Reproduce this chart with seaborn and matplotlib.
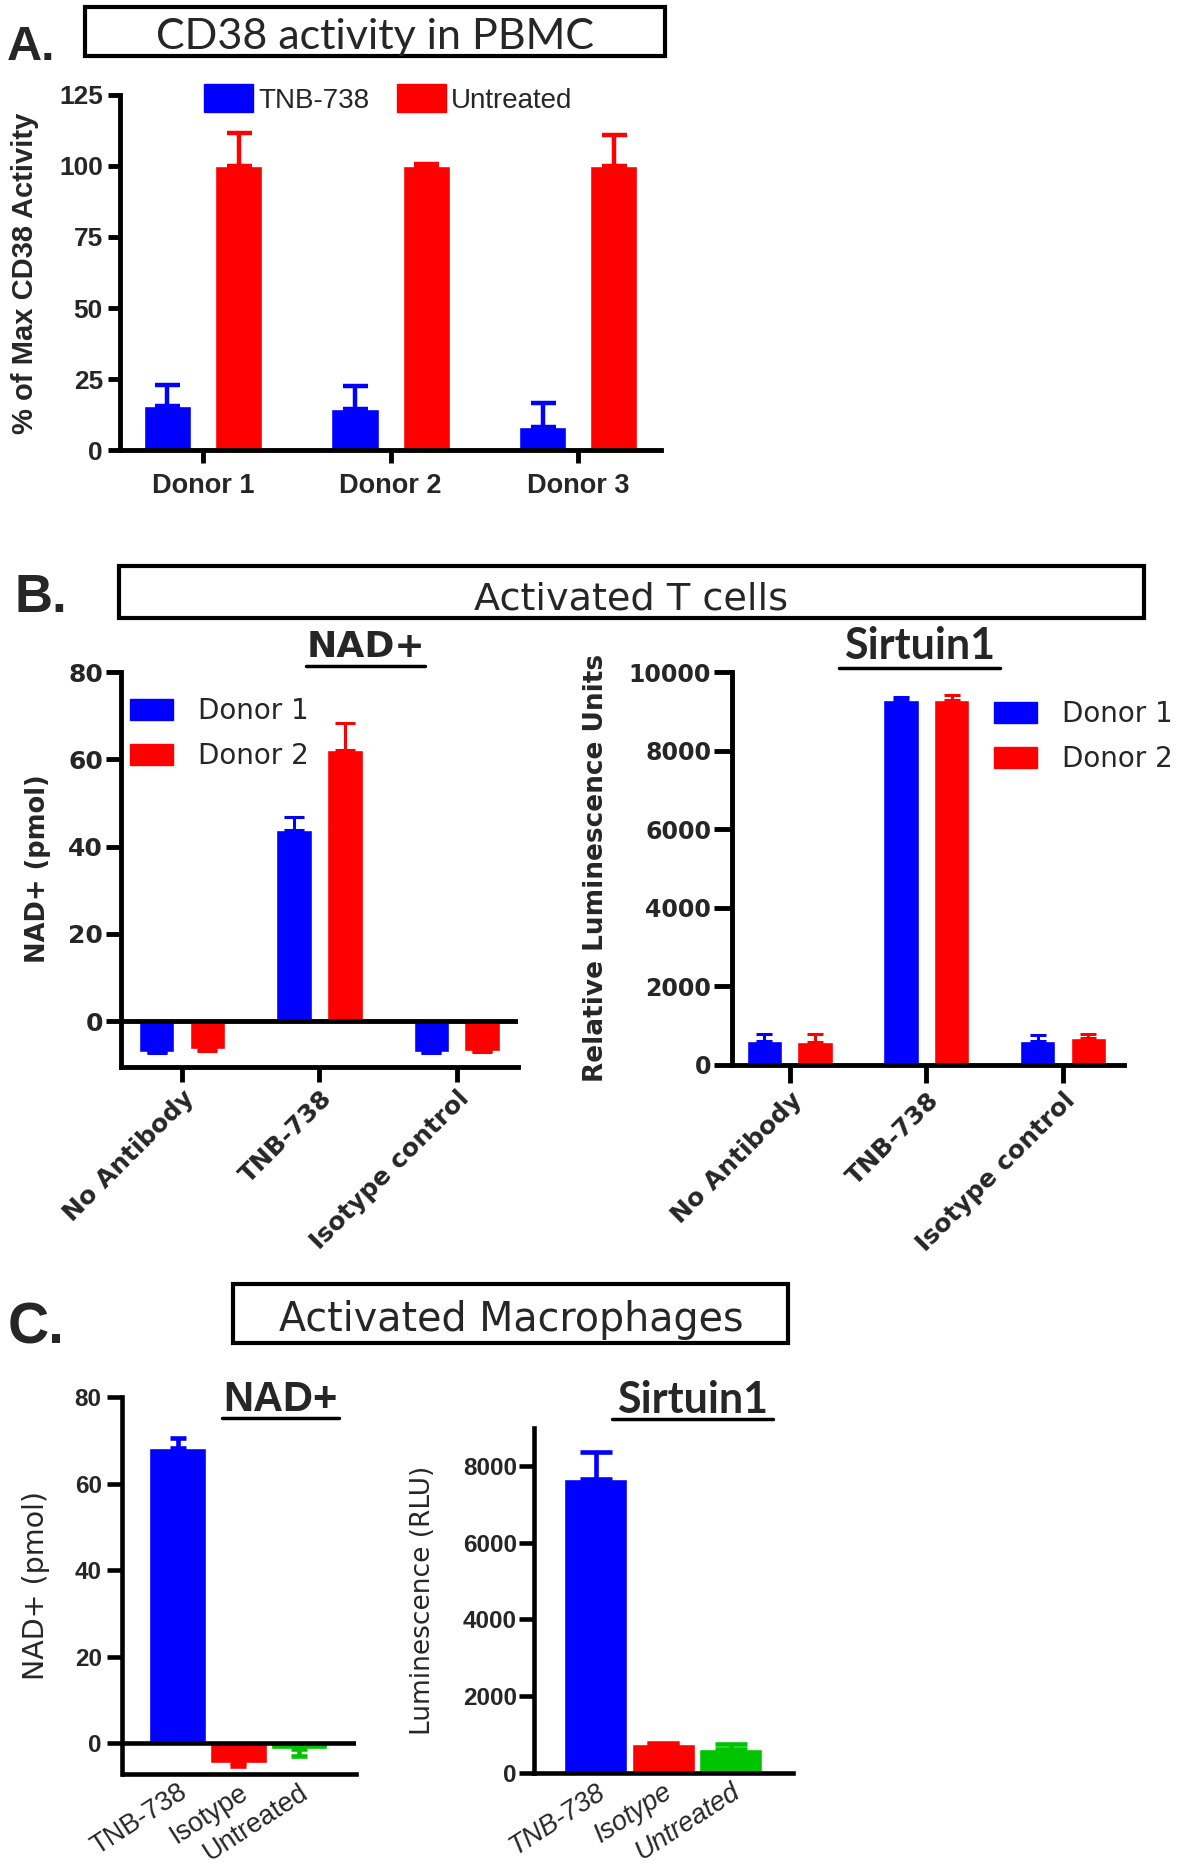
import matplotlib
matplotlib.use("Agg")
import matplotlib.pyplot as plt
import seaborn as sns
import pandas as pd
from matplotlib.patches import Patch, Rectangle
from matplotlib.lines import Line2D

W, H = 1181, 1868
BLUE, RED, GREEN = "#0000FF", "#FF0000", "#00C400"

# --- Panel A: CD38 activity in PBMC ---
a_donors = ["Donor 1", "Donor 2", "Donor 3"]
a_series = ["TNB-738", "Untreated"]
a_tnb = [15.5, 14.5, 8.2]
a_tnb_err = [7.5, 8.0, 8.3]
a_untr = [100.0, 99.8, 99.8]
a_untr_err = [11.5, 0.8, 11.0]

# --- Panel B: activated T cells ---
b_groups = ["No Antibody", "TNB-738", "Isotype control"]
b_series = ["Donor 1", "Donor 2"]
b_nad_d1 = [-7.1, 43.9, -7.1]
b_nad_d1_err = [0.3, 2.8, 0.3]
b_nad_d2 = [-6.5, 62.2, -6.8]
b_nad_d2_err = [0.3, 6.1, 0.3]
b_sirt_d1 = [600, 9290, 600]
b_sirt_d1_err = [190, 70, 160]
b_sirt_d2 = [580, 9290, 675]
b_sirt_d2_err = [215, 130, 120]

# --- Panel C: activated macrophages ---
c_groups = ["TNB-738", "Isotype", "Untreated"]
c_nad = [68.2, -4.5, -1.3]
c_nad_err = [2.2, 0.7, 1.7]
c_sirt = [7660, 760, 620]
c_sirt_err = [700, 30, 140]

sns.set_theme(style="white")
plt.rcParams["font.family"] = ["DejaVu Sans"]
fig = plt.figure(figsize=(W / 100, H / 100), dpi=100)


def px(x, y):
    return x / W, 1 - y / H


def new_axes(l, t, r, b):
    return fig.add_axes([l / W, 1 - b / H, (r - l) / W, (b - t) / H])


def box(x0, y0, x1, y1):
    fig.add_artist(Rectangle(px(x0, y1), (x1 - x0) / W, (y1 - y0) / H,
                             transform=fig.transFigure, fill=False, lw=3, ec="black"))


def underline(x0, x1, y):
    fig.add_artist(Line2D([x0 / W, x1 / W], [1 - y / H] * 2, transform=fig.transFigure,
                          color="black", lw=2.5))


def add_errors(ax, values, errors, colors, lw, cap):
    bars = [c for c in ax.containers if isinstance(c, matplotlib.container.BarContainer)]
    for h, cont in enumerate(bars):
        for bar in cont:
            xc = bar.get_x() + bar.get_width() / 2
            c = int(round(xc))
            v, e = values[h][c], errors[h][c]
            yerr = [[0], [e]] if v >= 0 else [[e], [0]]
            ax.errorbar([xc], [v], yerr=yerr, fmt="none", ecolor=colors[h],
                        elinewidth=lw, capsize=cap, capthick=lw, zorder=3)


def style(ax, lw, ticklen, pad, xticks=True):
    sns.despine(ax=ax)
    for s in ("left", "bottom"):
        ax.spines[s].set_linewidth(lw)
        ax.spines[s].set_color("black")
    ax.tick_params(axis="y", direction="out", length=ticklen, width=lw, pad=pad, left=True, color="black")
    ax.tick_params(axis="x", direction="out", length=ticklen if xticks else 0, width=lw,
                   bottom=xticks, color="black")
    ax.set_xlabel("")
    ax.set_ylabel("")
    ax.grid(False)


def long_df(groups, series, cols):
    rows = []
    for s, vals in zip(series, cols):
        for g, v in zip(groups, vals):
            rows.append({"group": g, "series": s, "value": v})
    return pd.DataFrame(rows)


# ---------------- Panel A ----------------
fig.text(*px(7, 60), "A.", fontsize=35, fontweight="bold", family="Liberation Sans", va="baseline")
box(85, 7, 665, 56)
fig.text(*px(375, 49), "CD38 activity in PBMC", fontsize=31, family="Lato", ha="center", va="baseline")

axA = new_axes(119.6, 94.5, 660.7, 450.4)
dfA = long_df(a_donors, a_series, [a_tnb, a_untr])
sns.barplot(data=dfA, x="group", y="value", hue="series", order=a_donors, hue_order=a_series,
            palette=[BLUE, RED], width=0.76, gap=0.34, saturation=1, errorbar=None,
            legend=False, ax=axA)
add_errors(axA, [a_tnb, a_untr], [a_tnb_err, a_untr_err], [BLUE, RED], 3.2, 9)
axA.set_xlim(-0.445, 2.44)
axA.set_ylim(0, 125)
axA.set_yticks([0, 25, 50, 75, 100, 125])
style(axA, 3.5, 9, 3)
axA.set_xticks(range(3), a_donors, fontsize=19.5, fontweight="bold", family="Liberation Sans")
axA.tick_params(axis="x", pad=7)
for t in axA.get_yticklabels():
    t.set_fontsize(19); t.set_fontweight("bold"); t.set_family("Liberation Sans")
fig.text(*px(25, 273), "% of Max CD38 Activity", rotation=90, fontsize=21, fontweight="bold",
         family="Liberation Sans", ha="center", va="center")
axA.legend(handles=[Patch(color=BLUE, label="TNB-738"), Patch(color=RED, label="Untreated")],
           ncol=2, loc="upper left", bbox_to_anchor=px(204, 84), bbox_transform=fig.transFigure,
           frameon=False, prop={"family": "Liberation Sans", "size": 20}, handlelength=1.75,
           handleheight=1.2, handletextpad=0.2, columnspacing=1.0, borderaxespad=0, borderpad=0)

# ---------------- Panel B ----------------
fig.text(*px(14, 612), "B.", fontsize=38, fontweight="bold", family="Liberation Sans", va="baseline")
box(119, 566, 1144, 618)
fig.text(*px(631, 610), "Activated T cells", fontsize=27.5, ha="center", va="baseline")

# NAD+
axB1 = new_axes(120.6, 672, 518, 1066.5)
dfB1 = long_df(b_groups, b_series, [b_nad_d1, b_nad_d2])
sns.barplot(data=dfB1, x="group", y="value", hue="series", order=b_groups, hue_order=b_series,
            palette=[BLUE, RED], width=0.74, gap=0.3, saturation=1, errorbar=None,
            legend=False, ax=axB1)
add_errors(axB1, [b_nad_d1, b_nad_d2], [b_nad_d1_err, b_nad_d2_err], [BLUE, RED], 2.2, 7)
axB1.axhline(0, color="black", lw=3.5, zorder=4)
axB1.set_xlim(-0.447, 2.446)
axB1.set_ylim(-10.4, 80)
axB1.set_yticks([0, 20, 40, 60, 80])
style(axB1, 3.5, 10.5, 2)
axB1.set_xticks(range(3), b_groups, fontsize=18, fontweight="bold", rotation=45,
                ha="right", rotation_mode="anchor")
for t in axB1.get_yticklabels():
    t.set_fontsize(18); t.set_fontweight("bold")
fig.text(*px(38.5, 869), "NAD+ (pmol)", rotation=90, fontsize=18.5, fontweight="bold",
         ha="center", va="center")
fig.text(*px(366, 657), "NAD+", fontsize=26, fontweight="bold", ha="center", va="baseline")
underline(306, 425, 666)
axB1.legend(handles=[Patch(color=BLUE, label="Donor 1"), Patch(color=RED, label="Donor 2")],
            loc="upper left", bbox_to_anchor=px(130, 697), bbox_transform=fig.transFigure,
            frameon=False, fontsize=20, handlelength=1.55, handleheight=0.8, handletextpad=0.9,
            labelspacing=0.62, borderaxespad=0, borderpad=0)

# Sirtuin1
axB2 = new_axes(732, 672, 1124, 1065)
dfB2 = long_df(b_groups, b_series, [b_sirt_d1, b_sirt_d2])
sns.barplot(data=dfB2, x="group", y="value", hue="series", order=b_groups, hue_order=b_series,
            palette=[BLUE, RED], width=0.74, gap=0.3, saturation=1, errorbar=None,
            legend=False, ax=axB2)
add_errors(axB2, [b_sirt_d1, b_sirt_d2], [b_sirt_d1_err, b_sirt_d2_err], [BLUE, RED], 2.2, 6)
axB2.set_xlim(-0.422, 2.446)
axB2.set_ylim(0, 10000)
axB2.set_yticks(range(0, 10001, 2000))
style(axB2, 3.5, 13, 2)
axB2.set_xticks(range(3), b_groups, fontsize=18, fontweight="bold", rotation=45,
                ha="right", rotation_mode="anchor")
for t in axB2.get_yticklabels():
    t.set_fontsize(17); t.set_fontweight("bold")
fig.text(*px(596, 868), "Relative Luminescence Units", rotation=90, fontsize=19, fontweight="bold",
         ha="center", va="center")
fig.text(*px(920, 659), "Sirtuin1", fontsize=31, fontweight="bold", family="Lato",
         ha="center", va="baseline")
underline(839, 1000, 668)
axB2.legend(handles=[Patch(color=BLUE, label="Donor 1"), Patch(color=RED, label="Donor 2")],
            loc="upper left", bbox_to_anchor=px(994, 700), bbox_transform=fig.transFigure,
            frameon=False, fontsize=20, handlelength=1.55, handleheight=0.8, handletextpad=0.9,
            labelspacing=0.62, borderaxespad=0, borderpad=0)

# ---------------- Panel C ----------------
fig.text(*px(8, 1343), "C.", fontsize=41, fontweight="bold", family="Liberation Sans", va="baseline")
box(233, 1284, 788, 1343)
fig.text(*px(511, 1331), "Activated Macrophages", fontsize=28.5, ha="center", va="baseline")

c_colors = [BLUE, RED, GREEN]

axC1 = new_axes(122.5, 1396.9, 356, 1773.8)
sns.barplot(x=c_groups, y=c_nad, hue=c_groups, order=c_groups, hue_order=c_groups,
            palette=c_colors, width=0.93, saturation=1, errorbar=None, legend=False, ax=axC1)
add_errors(axC1, [c_nad] * 3, [c_nad_err] * 3, c_colors, 3.3, 6)
axC1.axhline(0, color="black", lw=3.3, zorder=4)
axC1.set_xlim(-0.91, 2.94)
axC1.set_ylim(-7, 80)
axC1.set_yticks([0, 20, 40, 60, 80])
style(axC1, 3.3, 11, 4, xticks=False)
axC1.set_xticks(range(3), c_groups, fontsize=19.5, family="Liberation Sans", rotation=33,
                ha="right", rotation_mode="anchor")
axC1.tick_params(axis="x", pad=4)
for t in axC1.get_yticklabels():
    t.set_fontsize(17.5); t.set_fontweight("bold"); t.set_family("Liberation Sans")
fig.text(*px(36.4, 1586), "NAD+ (pmol)", rotation=90, fontsize=20.5, ha="center", va="center")
fig.text(*px(280, 1411), "NAD+", fontsize=30, fontweight="bold", family="Liberation Sans",
         ha="center", va="baseline")
underline(222, 339, 1418)

axC2 = new_axes(533.5, 1427.5, 793.4, 1773)
sns.barplot(x=c_groups, y=c_sirt, hue=c_groups, order=c_groups, hue_order=c_groups,
            palette=c_colors, width=0.93, saturation=1, errorbar=None, legend=False, ax=axC2)
add_errors(axC2, [c_sirt] * 3, [c_sirt_err] * 3, c_colors, 3.3, 11.5)
axC2.set_xlim(-0.92, 2.93)
axC2.set_ylim(0, 9000)
axC2.set_yticks(range(0, 8001, 2000))
style(axC2, 3.3, 11, 1, xticks=False)
axC2.set_xticks(range(3), c_groups, fontsize=19.5, family="Liberation Sans", style="italic",
                rotation=33, ha="right", rotation_mode="anchor")
axC2.tick_params(axis="x", pad=4)
for t in axC2.get_yticklabels():
    t.set_fontsize(17.5); t.set_fontweight("bold"); t.set_family("Liberation Sans")
fig.text(*px(423, 1600), "Luminescence (RLU)", rotation=90, fontsize=19, ha="center", va="center")
fig.text(*px(692.6, 1413), "Sirtuin1", fontsize=31, fontweight="bold", family="Lato",
         ha="center", va="baseline")
underline(612, 773, 1419)

fig.savefig("out.png", dpi=100)
